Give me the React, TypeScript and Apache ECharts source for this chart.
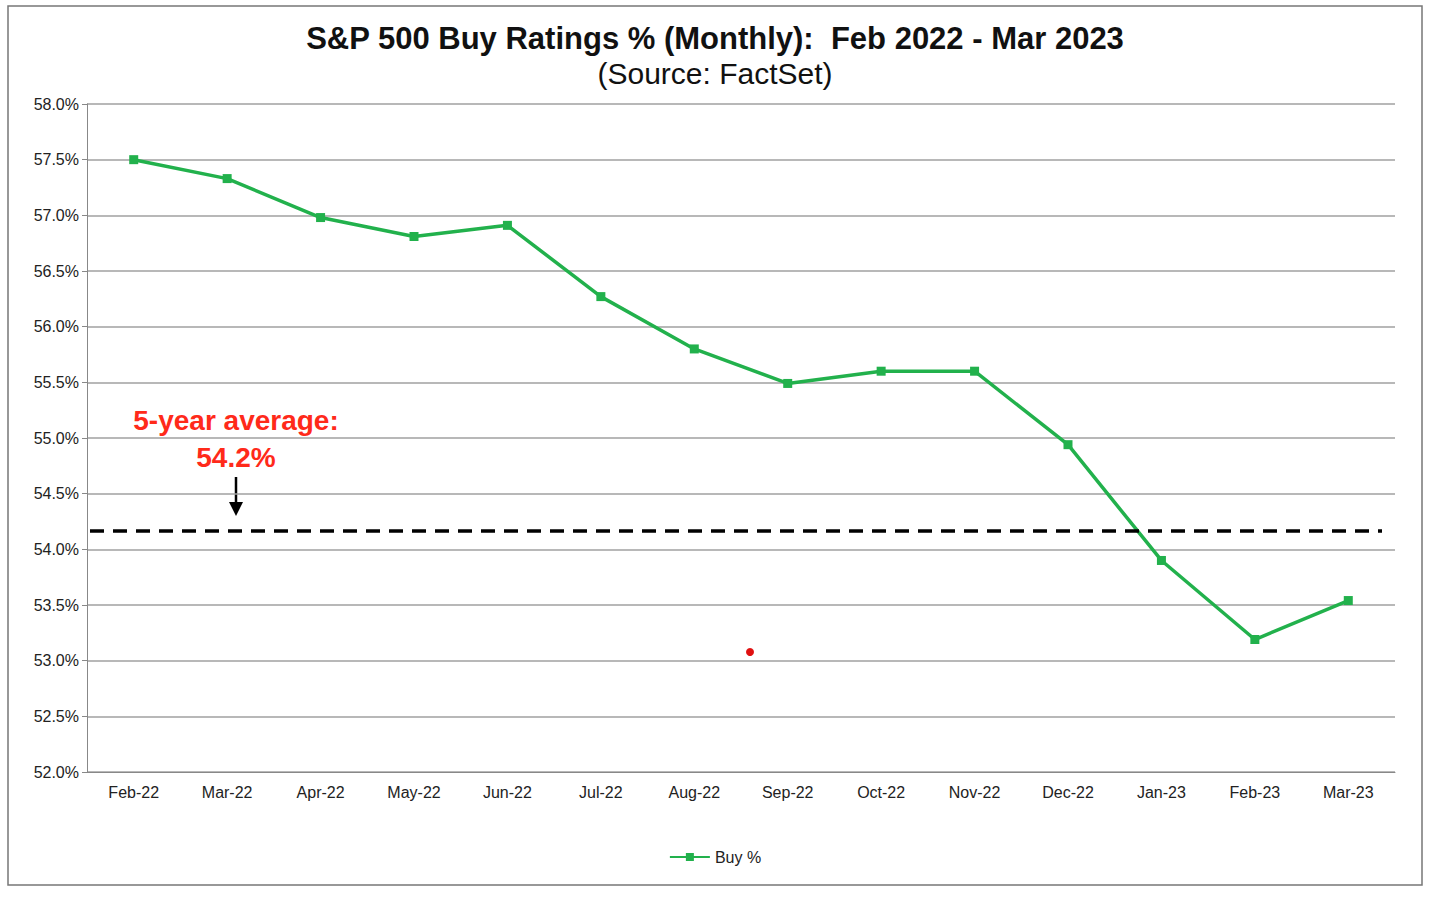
import { useEffect, useRef } from "react";
import * as echarts from "echarts";

const months = [
  "Feb-22", "Mar-22", "Apr-22", "May-22", "Jun-22", "Jul-22", "Aug-22",
  "Sep-22", "Oct-22", "Nov-22", "Dec-22", "Jan-23", "Feb-23", "Mar-23",
];
const buyPct = [57.5, 57.33, 56.98, 56.81, 56.91, 56.27, 55.8, 55.49, 55.6, 55.6, 54.94, 53.9, 53.19, 53.54];
const fiveYearAvg = 54.17;

export default function App() {
  const ref = useRef<HTMLDivElement | null>(null);

  useEffect(() => {
    if (!ref.current) return;
    document.body.style.margin = "0";
    const chart = echarts.init(ref.current, null, { renderer: "svg" });

    const option: echarts.EChartsOption = {
      animation: false,
      backgroundColor: "#fff",
      textStyle: { fontFamily: "Liberation Sans, Arial, sans-serif" },
      title: {
        text: "S&P 500 Buy Ratings % (Monthly):  Feb 2022 - Mar 2023",
        subtext: "(Source: FactSet)",
        left: "center",
        top: 18,
        itemGap: 4,
        textStyle: { fontSize: 31, fontWeight: "bold", color: "#111" },
        subtextStyle: { fontSize: 30, color: "#111" },
      },
      grid: { left: 87, right: 35, top: 104, bottom: 126 },
      xAxis: {
        type: "category",
        data: months,
        axisLine: { lineStyle: { color: "#888" } },
        axisTick: { lineStyle: { color: "#888" }, length: 6 },
        axisLabel: { color: "#222", fontSize: 16, margin: 12 },
      },
      yAxis: {
        type: "value",
        min: 52,
        max: 58,
        interval: 0.5,
        axisLine: { show: true, lineStyle: { color: "#888" } },
        axisTick: { show: true, lineStyle: { color: "#888" } },
        axisLabel: { color: "#222", fontSize: 16, formatter: (v: number) => `${v.toFixed(1)}%` },
        splitLine: { lineStyle: { color: "#a0a0a0", width: 1.5 } },
      },
      legend: {
        bottom: 28,
        left: "center",
        data: ["Buy %"],
        textStyle: { fontSize: 16, color: "#222" },
        itemWidth: 40,
        itemHeight: 10,
      },
      series: [
        {
          name: "Buy %",
          type: "line",
          data: buyPct,
          symbol: "rect",
          symbolSize: 9,
          lineStyle: { color: "#22b14c", width: 3.5 },
          itemStyle: { color: "#22b14c" },
          markLine: {
            silent: true,
            symbol: "none",
            label: { show: false },
            lineStyle: { color: "#000", type: [14, 9], width: 3.5 },
            data: [[{ coord: [0, fiveYearAvg], x: 90 }, { coord: [13, fiveYearAvg], x: 1382 }]],
          },
        },
      ],
      graphic: [
        { type: "rect", shape: { x: 8, y: 6, width: 1414, height: 879 }, style: { fill: "none", stroke: "#777", lineWidth: 1.5 }, silent: true },
        { type: "text", x: 236, y: 420, style: { text: "5-year average:", fill: "#ff2a1a", font: "bold 28px 'Liberation Sans Narrow', 'Liberation Sans', sans-serif", align: "center", verticalAlign: "middle" } },
        { type: "text", x: 236, y: 457, style: { text: "54.2%", fill: "#ff2a1a", font: "bold 28px 'Liberation Sans Narrow', 'Liberation Sans', sans-serif", align: "center", verticalAlign: "middle" } },
        { type: "line", shape: { x1: 236, y1: 477, x2: 236, y2: 506 }, style: { stroke: "#000", lineWidth: 2.5 } },
        { type: "polygon", shape: { points: [[229, 502], [243, 502], [236, 516]] }, style: { fill: "#000" } },
        { type: "circle", shape: { cx: 750, cy: 652, r: 4 }, style: { fill: "#e01010" } },
      ],
    };

    chart.setOption(option);
    return () => chart.dispose();
  }, []);

  return <div ref={ref} style={{ width: 1430, height: 898 }} />;
}
